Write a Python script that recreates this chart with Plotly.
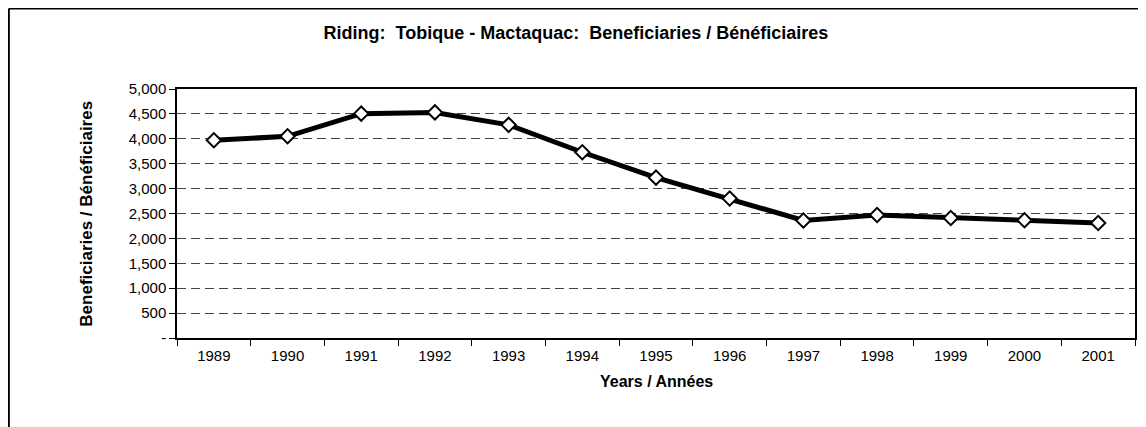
import plotly.graph_objects as go

years = ["1989", "1990", "1991", "1992", "1993", "1994", "1995",
         "1996", "1997", "1998", "1999", "2000", "2001"]
beneficiaries = [3970, 4050, 4505, 4530, 4280, 3730, 3220,
                 2800, 2360, 2470, 2410, 2365, 2310]
y_tick_values = [0, 500, 1000, 1500, 2000, 2500, 3000, 3500, 4000, 4500, 5000]
y_tick_labels = ["-", "500", "1,000", "1,500", "2,000", "2,500", "3,000",
                 "3,500", "4,000", "4,500", "5,000"]

title_text = "Riding:\u00a0\u00a0Tobique - Mactaquac:\u00a0\u00a0Beneficiaries / Bénéficiaires"
x_title = "Years / Années"
y_title = "Beneficiaries / Bénéficiaires"

FONT = "Liberation Sans, Arial, sans-serif"

# the page body adds an 8px offset; coordinates below are page pixels minus 8
OFF = 8
W, H = 1146 - OFF, 427 - OFF
L, R, T, B = 177 - OFF, 1137 - OFF, 89 - OFF, 338 - OFF

fig = go.Figure()
fig.add_trace(go.Scatter(
    x=years, y=beneficiaries, mode="lines+markers",
    line=dict(color="black", width=5),
    marker=dict(symbol="diamond", size=11, color="white",
                line=dict(color="black", width=2)),
    showlegend=False, cliponaxis=False,
))

fig.update_layout(
    width=W, height=H,
    margin=dict(l=L, r=W - R, t=T, b=H - B),
    paper_bgcolor="white", plot_bgcolor="white",
    font=dict(family=FONT, size=15, color="black"),
    title=dict(text="<b>" + title_text + "</b>", x=(576 - OFF) / W, xanchor="center",
               xref="container", y=1 - (33 - OFF) / H, yanchor="middle", yref="container",
               font=dict(family=FONT, size=18, color="black")),
)

fig.update_xaxes(
    type="category", range=[-0.5, 12.5],
    showline=True, linecolor="black", linewidth=1.5, mirror=True,
    ticks="outside", tickson="boundaries", ticklen=6, tickcolor="black", tickwidth=1,
    ticklabelstandoff=3,
    showgrid=False, tickfont=dict(size=15, family=FONT, color="black"),
)
fig.update_yaxes(
    range=[0, 5000], tickvals=y_tick_values, ticktext=y_tick_labels,
    showline=True, linecolor="black", linewidth=1.5, mirror=True,
    ticks="outside", ticklen=6, tickcolor="black", tickwidth=1,
    showgrid=True, gridcolor="#444444", gridwidth=1, griddash="9px,5px",
    zeroline=False, tickfont=dict(size=15, family=FONT, color="black"),
)

pw, ph = R - L, B - T
fig.add_annotation(text="<b>" + y_title + "</b>", textangle=-90,
                   xref="paper", yref="paper", x=(86 - OFF - L) / pw, y=0.5,
                   xanchor="center", yanchor="middle", showarrow=False,
                   font=dict(family=FONT, size=17, color="black"))
fig.add_annotation(text="<b>" + x_title + "</b>",
                   xref="paper", yref="paper", x=0.5, y=(B - (381 - OFF)) / ph,
                   xanchor="center", yanchor="middle", showarrow=False,
                   font=dict(family=FONT, size=16, color="black"))

# outer chart border (left and top edges visible)
bx = (0.5 - L) / pw
by = (B - 0.5) / ph
fig.add_shape(type="line", xref="paper", yref="paper",
              x0=bx, x1=bx, y0=by, y1=(B - H - 20) / ph,
              line=dict(color="black", width=2))
fig.add_shape(type="line", xref="paper", yref="paper",
              x0=bx, x1=(W + 20 - L) / pw, y0=by, y1=by,
              line=dict(color="black", width=2))

fig.write_html("out.html")
